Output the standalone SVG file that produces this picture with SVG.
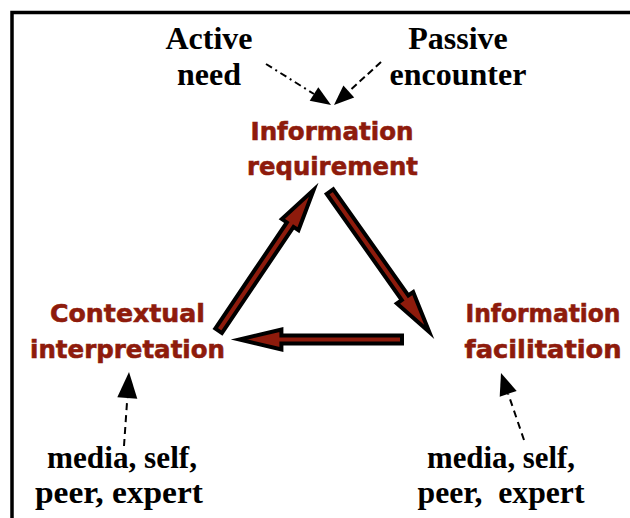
<svg xmlns="http://www.w3.org/2000/svg" width="630" height="518" viewBox="0 0 630 518">
<style>
.lbl{font-family:"Liberation Serif","Times New Roman",serif;font-weight:bold;font-size:32px;fill:#000;text-anchor:middle}
.red{font-family:"DejaVu Sans","Liberation Sans",sans-serif;font-weight:bold;font-size:25px;fill:#8E1B0C;stroke:#8E1B0C;stroke-width:0.6;text-anchor:middle}
.blk{fill:#8E1B0C;stroke:#000;stroke-width:4;stroke-linejoin:miter;stroke-miterlimit:12}
.dl{fill:none;stroke:#000;stroke-width:2}
.hd{fill:#000;stroke:none}
</style>
<rect width="630" height="518" fill="#fff"/>
<path d="M12,518 V12.5 H630" fill="none" stroke="#000" stroke-width="3.5"/>

<g id="active-need"><text class="lbl" x="209" y="49">Active</text><text class="lbl" x="209" y="85">need</text></g>
<g id="passive-encounter"><text class="lbl" x="458" y="49">Passive</text><text class="lbl" x="458" y="85">encounter</text></g>
<g id="information-requirement"><text class="red" x="332" y="140" textLength="163" lengthAdjust="spacingAndGlyphs">Information</text><text class="red" x="332.5" y="175" textLength="171" lengthAdjust="spacingAndGlyphs">requirement</text></g>
<g id="contextual-interpretation"><text class="red" x="127.5" y="322" textLength="155" lengthAdjust="spacingAndGlyphs">Contextual</text><text class="red" x="127.5" y="358" textLength="195" lengthAdjust="spacingAndGlyphs">interpretation</text></g>
<g id="information-facilitation"><text class="red" x="543" y="322" textLength="155" lengthAdjust="spacingAndGlyphs">Information</text><text class="red" x="543" y="358" textLength="157" lengthAdjust="spacingAndGlyphs">facilitation</text></g>
<g id="sources-left"><text class="lbl" x="122" y="468" textLength="150" lengthAdjust="spacingAndGlyphs">media, self,</text><text class="lbl" x="119" y="503" textLength="168" lengthAdjust="spacingAndGlyphs">peer, expert</text></g>
<g id="sources-right"><text class="lbl" x="501" y="468" textLength="148" lengthAdjust="spacingAndGlyphs">media, self,</text><text class="lbl" x="501" y="503" xml:space="preserve" textLength="167" lengthAdjust="spacingAndGlyphs">peer,  expert</text></g>

<g id="connectors">
  <polygon class="blk" transform="translate(218.6,330.8) rotate(-56)" points="0,-4 128,-4 128,-10 170,0 128,10 128,4 0,4"/>
  <polygon class="blk" transform="translate(330,191.6) rotate(54.75)" points="0,-4 130,-4 130,-10 172,0 130,10 130,4 0,4"/>
  <polygon class="blk" transform="translate(402,339.5) rotate(180)" points="0,-4 120.6,-4 120.6,-10 162.6,0 120.6,10 120.6,4 0,4"/>

  <line class="dl" x1="266" y1="64" x2="314" y2="94" stroke-dasharray="7 4 2 4"/>
  <polygon class="hd" points="331,105 309.7,100.8 318.3,87.2"/>
  <line class="dl" x1="381" y1="62" x2="348.8" y2="91.5" stroke-dasharray="7 4"/>
  <polygon class="hd" points="334,105 354.2,97.4 343.4,85.6"/>
  <line class="dl" x1="124" y1="446" x2="127.3" y2="398" stroke-dasharray="7 5"/>
  <polygon class="hd" points="129,372 137.3,398.7 117.3,397.3"/>
  <line class="dl" x1="524" y1="440" x2="508.2" y2="393.8" stroke-dasharray="7 5"/>
  <polygon class="hd" points="501,373 516.7,390.9 499.7,396.7"/>
</g>
</svg>
